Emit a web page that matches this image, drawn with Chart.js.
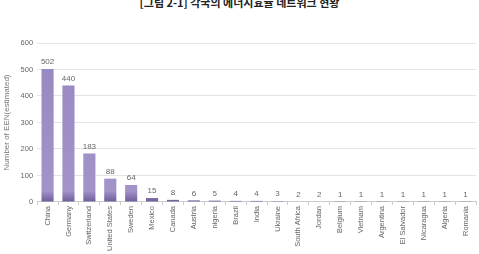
<!DOCTYPE html>
<html>
<head>
<meta charset="utf-8">
<script src="https://cdn.jsdelivr.net/npm/chart.js@4"></script>
<style>
    html, body { margin: 0; padding: 0; background: #fff; }
    #wrap { position: relative; width: 479px; height: 254px; overflow: hidden; }
    #title {
        position: absolute; left: 0; right: 0; top: -6px;
        text-align: center; font: bold 11px "Noto Sans CJK KR", sans-serif; color: #222;
    }
    canvas { position: absolute; left: 0; top: 0; }
</style>
</head>
<body>
<div id="wrap">
    <div id="title">[그림 2-1] 각국의 에너지효율 네트워크 현황</div>
    <canvas id="chart" width="479" height="254"></canvas>
</div>
<script>
    const countries = ["China", "Germany", "Switzerland", "United States", "Sweden", "Mexico", "Canada",
        "Austria", "nigeria", "Brazil", "India", "Ukraine", "South Africa", "Jordan", "Belgium", "Vietnam",
        "Argentina", "El Salvador", "Nicaragua", "Algeria", "Romania"];
    const networkCounts = [502, 440, 183, 88, 64, 15, 8, 6, 5, 4, 4, 3, 2, 2, 1, 1, 1, 1, 1, 1, 1];
    const yTicks = [0, 100, 200, 300, 400, 500, 600];

    // numbers above each bar
    const valueLabels = {
        id: "valueLabels",
        afterDatasetsDraw(chart) {
            const ctx = chart.ctx;
            const meta = chart.getDatasetMeta(0);
            ctx.save();
            ctx.font = "8px 'Liberation Sans', sans-serif";
            ctx.fillStyle = "#666";
            ctx.textAlign = "center";
            ctx.textBaseline = "bottom";
            meta.data.forEach((bar, i) => {
                ctx.fillText(networkCounts[i], bar.x, bar.y - 3);
            });
            ctx.restore();
        }
    };

    function barFill(context) {
        const area = context.chart.chartArea;
        if (!area) return "#9d8dc5";
        const g = context.chart.ctx.createLinearGradient(0, area.bottom, 0, area.top);
        g.addColorStop(0, "#6f5c98");
        g.addColorStop(0.035, "#8877b2");
        g.addColorStop(0.07, "#a293c9");
        g.addColorStop(1, "#9787bf");
        return g;
    }

    new Chart(document.getElementById("chart"), {
        type: "bar",
        data: {
            labels: countries,
            datasets: [{
                data: networkCounts,
                backgroundColor: barFill,
                borderWidth: 0,
                barPercentage: 0.58,
                categoryPercentage: 1
            }]
        },
        options: {
            responsive: false,
            animation: false,
            layout: { padding: { top: 43, right: 3, left: 0, bottom: 2 } },
            plugins: { legend: { display: false }, tooltip: { enabled: false } },
            scales: {
                x: {
                    grid: { display: true, drawOnChartArea: false, offset: true, tickLength: 3, color: "#ccc" },
                    border: { color: "#ccc" },
                    ticks: {
                        color: "#666", font: { size: 7.5, family: "'Liberation Sans', sans-serif" },
                        maxRotation: 90, minRotation: 90, autoSkip: false, padding: 1
                    }
                },
                y: {
                    min: 0, max: 600,
                    afterBuildTicks(axis) { axis.ticks = yTicks.map((v) => ({ value: v })); },
                    grid: { color: "#e4e4e4", drawTicks: false },
                    border: { display: false },
                    ticks: { color: "#666", font: { size: 7.5, family: "'Liberation Sans', sans-serif" }, padding: 4 },
                    title: {
                        display: true, text: "Number of EEN(estimated)", color: "#777",
                        font: { size: 8, family: "'Liberation Sans', sans-serif" }, padding: { top: 2, bottom: 5 }
                    }
                }
            }
        },
        plugins: [valueLabels]
    });
</script>
</body>
</html>
